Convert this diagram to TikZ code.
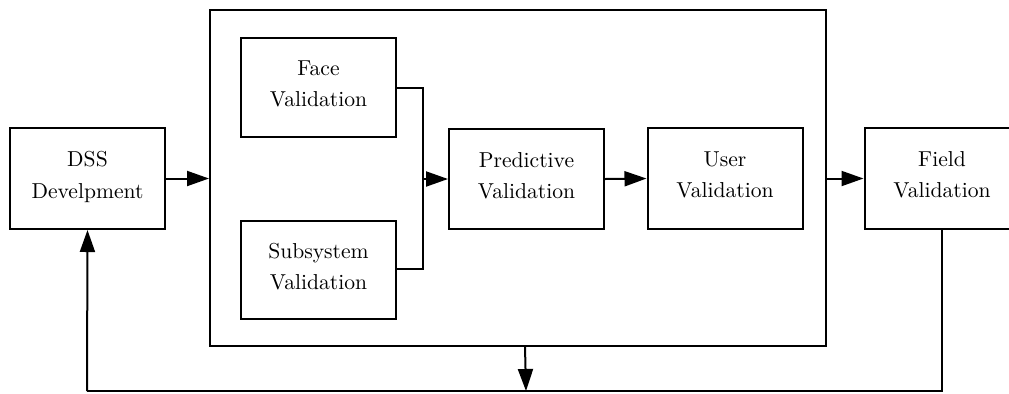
\documentclass[tikz,border=0pt]{standalone}
\usetikzlibrary{arrows.meta,calc}
\begin{document}
\begin{tikzpicture}[x=0.5pt,y=-0.5pt,
  box/.style={draw,line width=1pt,minimum width=77.5pt,minimum height=50.5pt,inner sep=0pt,align=center,text depth=3.7pt,font=\fontsize{10.8}{15.6}\selectfont},
  conn/.style={line width=1pt},
  arr/.style={line width=1pt,-{Triangle[length=11pt,width=7.5pt]}}]
\useasboundingbox (0,0) rectangle (1009,393);
\node[box] (dss) at (87.5,178.5) {DSS\\Develpment};
\node[draw,line width=1pt,minimum width=308pt,minimum height=168pt,inner sep=0pt] (big) at (518,178) {};
\node[box,minimum height=49.5pt] (face) at (318.5,87.5) {Face\\Validation};
\node[box,minimum height=49pt] (sub) at (318.5,270) {Subsystem\\Validation};
\node[box,minimum height=50pt] (pred) at (526.5,179) {Predictive\\Validation};
\node[box] (user) at (725,178.5) {User\\Validation};
\node[box] (field) at (942,178.5) {Field\\Validation};
\coordinate (jt) at (423,88);
\coordinate (jb) at (423,269);
\coordinate (jm) at (423,179);
\draw[conn] (face.east |- jt) -- (jt) -- (jb) -- (sub.east |- jb);
\draw[arr] (jm) -- (pred.west);
\draw[arr] (pred.east) -- (user.west);
\draw[arr] (dss.east) -- (big.west |- dss.east);
\draw[arr] (big.east |- field.west) -- (field.west);
\coordinate (br) at (942,391);
\coordinate (bl) at (87,391);
\coordinate (bm) at (526,391);
\coordinate (bt) at (525,346);
\draw[conn] (field.south) -- (br) -- (bl);
\draw[arr] (bl) -- (dss.south);
\draw[arr] (bt) -- (bm);
\end{tikzpicture}
\end{document}
